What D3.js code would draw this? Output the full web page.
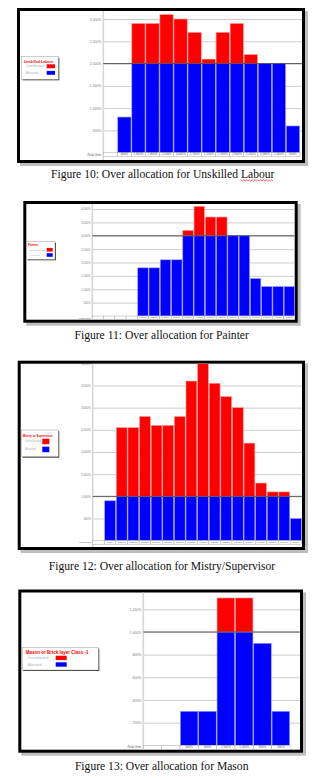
<!DOCTYPE html>
<html>
<head>
<meta charset="utf-8">
<script src="https://cdn.jsdelivr.net/npm/d3@7"></script>
<style>
  html, body { margin: 0; padding: 0; background: #fff; }
  svg { display: block; }
</style>
</head>
<body>
<svg id="page" width="334" height="778"></svg>
<script>
// ---- Resource usage per period (peak units, %); null = no work in that period ----
const unskilledPeak = [null, 800, 2900, 2900, 3100, 3000, 2700, 2100, 2700, 2900, 2200, 2000, 2000, 600];
const unskilledMax = 2000;
const unskilledTicks = [500, 1000, 1500, 2000, 2500, 3000];

const painterPeak = [null, null, null, null, 1800, 1800, 2100, 2100, 3200, 4100, 3700, 3700, 3000, 3000, 1400, 1100, 1100, 1100];
const painterMax = 3000;
const painterTicks = [500, 1000, 1500, 2000, 2500, 3000, 3500, 4000];

const mistryPeak = [null, 900, 2550, 2550, 2800, 2600, 2600, 2800, 3600, 4000, 3550, 3250, 3000, 2200, 1300, 1100, 1100, 500];
const mistryMax = 1000;
const mistryTicks = [500, 1000, 1500, 2000, 2500, 3000, 3500, 4000];

const masonPeak = [null, null, 300, 300, 1300, 1300, 900, 300];
const masonMax = 1000;
const masonTicks = [200, 400, 600, 800, 1000, 1200];

const resourceNames = ["Unskilled Labour", "Painter", "Mistry or Supervisor", "Mason or Brick layer Class -1"];
const captions = [
  "Figure 10: Over allocation for Unskilled Labour",
  "Figure 11: Over allocation for Painter",
  "Figure 12: Over allocation for Mistry/Supervisor",
  "Figure 13: Over allocation for Mason"
];
const legendLabels = ["Overallocated:", "Allocated:"];
const rowLabel = "Peak Units";

// ---- Page layout of each resource graph ----
const layouts = [
  { frame: [17, 8, 305, 163], axisX: 103.3, plotRight: 300, y0: 152.7, yTop: 19, tickTop: 3000, cellH: 4, fs: 3.4,
    legend: { box: [21.7, 56.7, 36.6, 22.6], tx: 24, ty: 62.6, tfs: 3.6, lx: 26, lfs: 2.9, sx: 46.7, sw: 8.3, sh: 3.9, r: [64.3, 70.9] },
    caption: { x: 162.7, y: 177.8, fs: 11.6 } },
  { frame: [23.3, 201, 297.7, 322.7], axisX: 92.3, plotRight: 295, y0: 316, yTop: 209, tickTop: 4000, cellH: 3.4, fs: 2.7,
    legend: { box: [26.7, 241.7, 28.3, 17.6], tx: 28, ty: 246.4, tfs: 3, lx: 29.3, lfs: 2.5, sx: 46.7, sw: 6, sh: 3.6, r: [248, 253.2] },
    caption: { x: 161.7, y: 338.6, fs: 11.6 } },
  { frame: [17.7, 360.7, 305, 550], axisX: 92.7, plotRight: 301.7, y0: 540.7, yTop: 363.3, tickTop: 4000, cellH: 3.6, fs: 2.8,
    legend: { box: [21.7, 430, 36.6, 26.7], tx: 22.7, ty: 437.4, tfs: 3.1, lx: 25, lfs: 2.6, sx: 42.3, sw: 7, sh: 5.5, r: [438.7, 446.7] },
    caption: { x: 162, y: 569.6, fs: 11.6 } },
  { frame: [18.3, 589.5, 303, 752.7], axisX: 143.3, plotRight: 290, y0: 745.3, yTop: 609.3, tickTop: 1200, cellH: 4, fs: 3.4,
    legend: { box: [22.3, 647.7, 76, 22.3], tx: 25.7, ty: 654, tfs: 4.5, lx: 27.7, lfs: 3.3, sx: 55.7, sw: 11, sh: 4.4, r: [655.7, 662.3] },
    caption: { x: 161.7, y: 770.3, fs: 11.6 } }
];

const charts = [
  { peak: unskilledPeak, max: unskilledMax, ticks: unskilledTicks },
  { peak: painterPeak, max: painterMax, ticks: painterTicks },
  { peak: mistryPeak, max: mistryMax, ticks: mistryTicks },
  { peak: masonPeak, max: masonMax, ticks: masonTicks }
];

const RED = "#ff0000", BLUE = "#0000ff";
const SANS = "'Liberation Sans', Arial, sans-serif";
const SERIF = "'Liberation Serif', 'Times New Roman', serif";
const pct = v => d3.format(",")(v) + "%";

const svg = d3.select("#page");
const defs = svg.append("defs");

charts.forEach((c, i) => {
  const L = layouts[i];
  const [fx0, fy0, fx1, fy1] = L.frame;
  const bw = 3;
  const g = svg.append("g");

  // frame shadow, then the black bordered sheet
  g.append("rect")
    .attr("x", fx0 + 3).attr("y", fy0 + 3)
    .attr("width", fx1 - fx0).attr("height", fy1 - fy0)
    .attr("fill", "#bdbdbd");
  g.append("rect")
    .attr("x", fx0 + bw / 2).attr("y", fy0 + bw / 2)
    .attr("width", fx1 - fx0 - bw).attr("height", fy1 - fy0 - bw)
    .attr("fill", "#fff").attr("stroke", "#000").attr("stroke-width", bw);

  const ix0 = fx0 + bw, iy0 = fy0 + bw, ix1 = fx1 - bw, iy1 = fy1 - bw;
  defs.append("clipPath").attr("id", "inner" + i)
    .append("rect").attr("x", ix0).attr("y", iy0).attr("width", ix1 - ix0).attr("height", iy1 - iy0);
  const inner = g.append("g").attr("clip-path", `url(#inner${i})`);

  const x = d3.scaleBand().domain(d3.range(c.peak.length)).range([L.axisX, L.plotRight]);
  const y = d3.scaleLinear().domain([0, L.tickTop]).range([L.y0, L.yTop]);

  // horizontal grid lines
  inner.append("g")
    .attr("transform", `translate(${L.axisX},0)`)
    .call(d3.axisRight(y).tickValues(c.ticks).tickSize(ix1 - L.axisX).tickFormat(""))
    .call(a => a.select(".domain").remove())
    .call(a => a.selectAll("line").attr("stroke", "#cdcdcd").attr("stroke-width", 1));

  // vertical axis rule spanning the sheet
  inner.append("line")
    .attr("x1", L.axisX).attr("x2", L.axisX).attr("y1", iy0).attr("y2", iy1)
    .attr("stroke", "#d6d6d6").attr("stroke-width", 1.6);

  // tick labels
  inner.append("g")
    .attr("transform", `translate(${L.axisX - 1.5},0)`)
    .call(d3.axisLeft(y).tickValues(c.ticks).tickSize(0).tickPadding(0.5).tickFormat(pct))
    .call(a => a.select(".domain").remove())
    .call(a => a.selectAll("text").attr("font-family", SANS).attr("font-size", L.fs).attr("fill", "#777"));

  // bars: allocated part up to the max units, overallocated part above it
  const periods = d3.range(c.peak.length).filter(k => c.peak[k] != null);
  inner.append("g").selectAll("rect").data(periods).join("rect")
    .attr("x", k => x(k) + 0.4).attr("width", x.bandwidth() - 0.8)
    .attr("y", k => y(Math.min(c.peak[k], c.max)))
    .attr("height", k => y(0) - y(Math.min(c.peak[k], c.max)))
    .attr("fill", BLUE).attr("stroke", "#9a9aff").attr("stroke-width", 0.6);
  inner.append("g").selectAll("rect").data(periods.filter(k => c.peak[k] > c.max)).join("rect")
    .attr("x", k => x(k) + 0.4).attr("width", x.bandwidth() - 0.8)
    .attr("y", k => y(c.peak[k]))
    .attr("height", k => y(c.max) - y(c.peak[k]))
    .attr("fill", RED).attr("stroke", "#ff9a9a").attr("stroke-width", 0.6);

  // max available units
  inner.append("line")
    .attr("x1", L.axisX).attr("x2", ix1).attr("y1", y(c.max)).attr("y2", y(c.max))
    .attr("stroke", "#4a4a4a").attr("stroke-width", 0.9);

  // peak units row under the bars
  inner.append("g").selectAll("rect").data(x.domain()).join("rect")
    .attr("x", k => x(k)).attr("width", x.bandwidth())
    .attr("y", y(0)).attr("height", L.cellH)
    .attr("fill", "#fff").attr("stroke", "#a8a8a8").attr("stroke-width", 0.5);
  inner.append("g")
    .attr("transform", `translate(0,${y(0)})`)
    .call(d3.axisBottom(x).tickSize(0).tickPadding(0.6)
      .tickFormat(k => c.peak[k] == null ? "" : pct(c.peak[k])))
    .call(a => a.select(".domain").remove())
    .call(a => a.selectAll("text").attr("font-family", SANS).attr("font-size", L.fs * 0.85).attr("fill", "#555"));
  inner.append("text")
    .attr("x", L.axisX - 2).attr("y", y(0) + L.cellH * 0.75)
    .attr("text-anchor", "end")
    .attr("font-family", SANS).attr("font-size", L.fs * 0.85).attr("fill", "#555")
    .text(rowLabel);

  // legend
  const lg = L.legend;
  const [bx, by, bwid, bh] = lg.box;
  inner.append("rect").attr("x", bx + 1).attr("y", by + 1).attr("width", bwid).attr("height", bh).attr("fill", "#3a3a3a");
  inner.append("rect").attr("x", bx).attr("y", by).attr("width", bwid).attr("height", bh)
    .attr("fill", "#fff").attr("stroke", "#9c9c9c").attr("stroke-width", 0.5);
  inner.append("text").attr("x", lg.tx).attr("y", lg.ty)
    .attr("font-family", SANS).attr("font-weight", "bold").attr("font-size", lg.tfs).attr("fill", RED)
    .text(resourceNames[i]);
  [RED, BLUE].forEach((col, r) => {
    inner.append("rect").attr("x", lg.sx).attr("y", lg.r[r]).attr("width", lg.sw).attr("height", lg.sh)
      .attr("fill", col);
    inner.append("text").attr("x", lg.lx).attr("y", lg.r[r] + lg.sh * 0.5 + lg.lfs * 0.35)
      .attr("font-family", SANS).attr("font-size", lg.lfs).attr("fill", "#9fb0c8")
      .text(legendLabels[r]);
  });

  // figure caption
  const cap = svg.append("text")
    .attr("x", L.caption.x).attr("y", L.caption.y)
    .attr("text-anchor", "middle")
    .attr("font-family", SERIF).attr("font-size", L.caption.fs).attr("fill", "#111")
    .text(captions[i]);

  // spell-check squiggle under the last word of the first caption
  if (i === 0) {
    const s = captions[i];
    const w0 = s.lastIndexOf(" ") + 1;
    const node = cap.node();
    const sx = node.getStartPositionOfChar(w0).x;
    const ex = node.getEndPositionOfChar(s.length - 1).x;
    const wy = L.caption.y + 2.2;
    const pts = d3.range(sx, ex + 0.01, 1.4).map((px, k) => [px, wy + (k % 2 ? 1 : -0.2)]);
    svg.append("path").attr("d", d3.line()(pts))
      .attr("fill", "none").attr("stroke", "#e02020").attr("stroke-width", 0.7);
  }
});
</script>
</body>
</html>
